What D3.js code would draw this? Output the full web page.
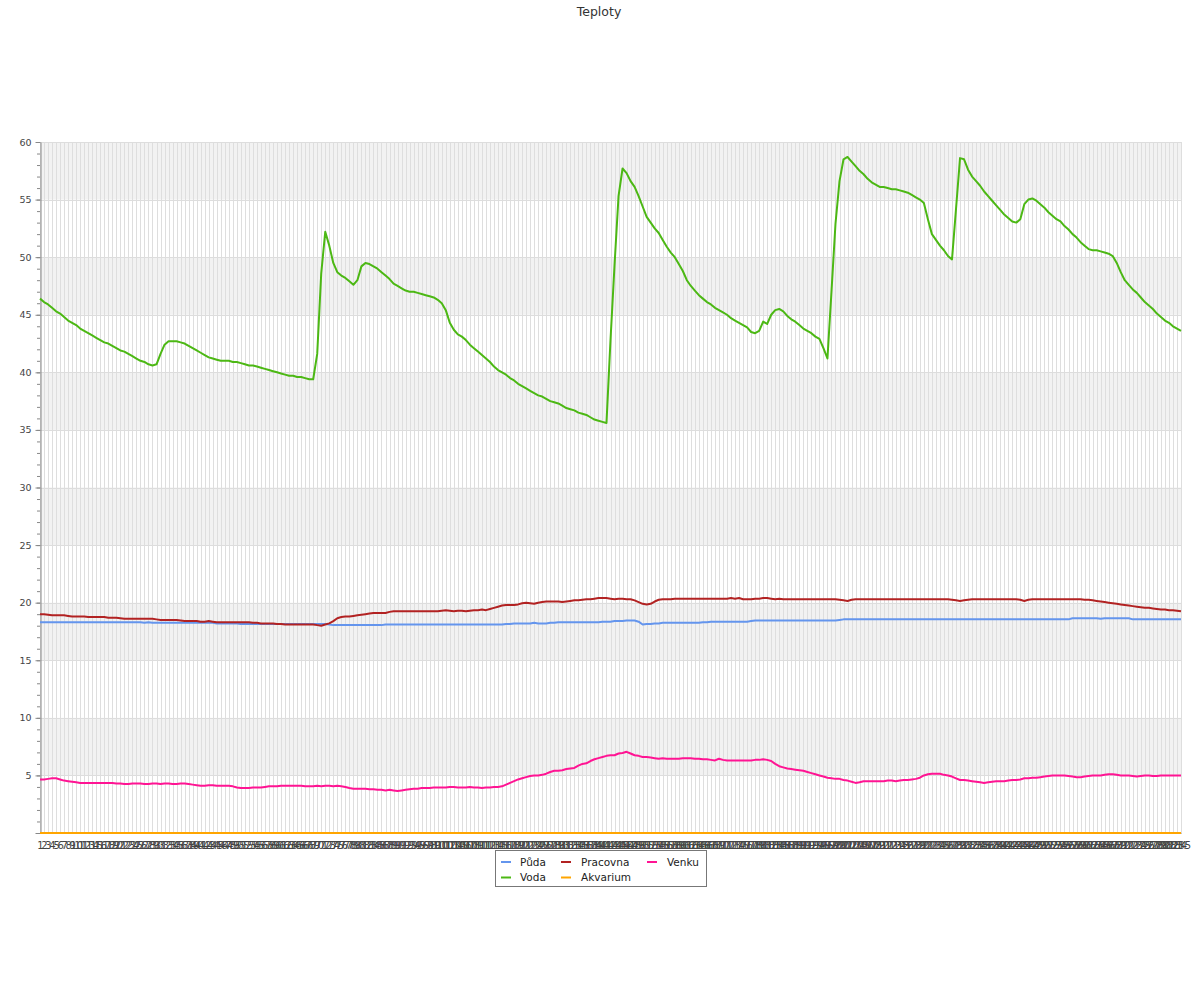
<!DOCTYPE html>
<html><head><meta charset="utf-8">
<script src="https://cdn.jsdelivr.net/npm/d3@7"></script>
<style>
body{margin:0;background:#fff}
svg{display:block;font-family:"DejaVu Sans",sans-serif}
</style>
</head><body>
<svg id="chart" width="1200" height="1000"></svg>
<script>
const title = "Teploty";
const categories = [
1,2,3,4,5,6,7,8,9,10,11,12,13,14,15,16,17,18,19,20,
21,22,23,24,25,26,27,28,29,30,31,32,33,34,35,36,37,38,39,40,
41,42,43,44,45,46,47,48,49,50,51,52,53,54,55,56,57,58,59,60,
61,62,63,64,65,66,67,68,69,70,71,72,73,74,75,76,77,78,79,80,
81,82,83,84,85,86,87,88,89,90,91,92,93,94,95,96,97,98,99,100,
101,102,103,104,105,106,107,108,109,110,111,112,113,114,115,116,117,118,119,120,
121,122,123,124,125,126,127,128,129,130,131,132,133,134,135,136,137,138,139,140,
141,142,143,144,145,146,147,148,149,150,151,152,153,154,155,156,157,158,159,160,
161,162,163,164,165,166,167,168,169,170,171,172,173,174,175,176,177,178,179,180,
181,182,183,184,185,186,187,188,189,190,191,192,193,194,195,196,197,198,199,200,
201,202,203,204,205,206,207,208,209,210,211,212,213,214,215,216,217,218,219,220,
221,222,223,224,225,226,227,228,229,230,231,232,233,234,235,236,237,238,239,240,
241,242,243,244,245,246,247,248,249,250,251,252,253,254,255,256,257,258,259,260,
261,262,263,264,265,266,267,268,269,270,271,272,273,274,275,276,277,278,279,280,
281,282,283,284,285];

const yTicks = [5,10,15,20,25,30,35,40,45,50,55,60];

const puda = [
18.3,18.3,18.3,18.3,18.3,18.3,18.3,18.3,18.3,18.3,
18.3,18.3,18.3,18.3,18.3,18.3,18.3,18.3,18.3,18.3,
18.3,18.3,18.3,18.3,18.3,18.3,18.25,18.3,18.25,18.25,
18.25,18.25,18.25,18.25,18.25,18.25,18.25,18.25,18.25,18.25,
18.25,18.25,18.25,18.25,18.2,18.2,18.2,18.2,18.2,18.2,
18.15,18.15,18.15,18.15,18.15,18.15,18.15,18.15,18.15,18.15,
18.15,18.15,18.15,18.15,18.15,18.15,18.15,18.15,18.15,18.15,
18.15,18.15,18.1,18.05,18.05,18.05,18.05,18.05,18.05,18.05,
18.05,18.05,18.05,18.05,18.05,18.05,18.1,18.1,18.1,18.1,
18.1,18.1,18.1,18.1,18.1,18.1,18.1,18.1,18.1,18.1,
18.1,18.1,18.1,18.1,18.1,18.1,18.1,18.1,18.1,18.1,
18.1,18.1,18.1,18.1,18.1,18.1,18.15,18.15,18.2,18.2,
18.2,18.2,18.2,18.25,18.2,18.2,18.2,18.25,18.25,18.3,
18.3,18.3,18.3,18.3,18.3,18.3,18.3,18.3,18.3,18.3,
18.35,18.35,18.35,18.4,18.4,18.4,18.45,18.45,18.45,18.35,
18.1,18.15,18.15,18.2,18.2,18.25,18.25,18.25,18.25,18.25,
18.25,18.25,18.25,18.25,18.25,18.3,18.3,18.35,18.35,18.35,
18.35,18.35,18.35,18.35,18.35,18.35,18.35,18.4,18.45,18.45,
18.45,18.45,18.45,18.45,18.45,18.45,18.45,18.45,18.45,18.45,
18.45,18.45,18.45,18.45,18.45,18.45,18.45,18.45,18.45,18.5,
18.55,18.55,18.55,18.55,18.55,18.55,18.55,18.55,18.55,18.55,
18.55,18.55,18.55,18.55,18.55,18.55,18.55,18.55,18.55,18.55,
18.55,18.55,18.55,18.55,18.55,18.55,18.55,18.55,18.55,18.55,
18.55,18.55,18.55,18.55,18.55,18.55,18.55,18.55,18.55,18.55,
18.55,18.55,18.55,18.55,18.55,18.55,18.55,18.55,18.55,18.55,
18.55,18.55,18.55,18.55,18.55,18.55,18.55,18.65,18.65,18.65,
18.65,18.65,18.65,18.65,18.6,18.65,18.65,18.65,18.65,18.65,
18.65,18.65,18.55,18.55,18.55,18.55,18.55,18.55,18.55,18.55,
18.55,18.55,18.55,18.55,18.55];

const voda = [
46.4,46.1,45.9,45.6,45.3,45.1,44.8,44.5,44.3,44.1,
43.8,43.6,43.4,43.2,43.0,42.8,42.6,42.5,42.3,42.1,
41.9,41.8,41.6,41.4,41.2,41.0,40.9,40.7,40.6,40.7,
41.6,42.4,42.7,42.7,42.7,42.6,42.5,42.3,42.1,41.9,
41.7,41.5,41.3,41.2,41.1,41.0,41.0,41.0,40.9,40.9,
40.8,40.7,40.6,40.6,40.5,40.4,40.3,40.2,40.1,40.0,
39.9,39.8,39.7,39.7,39.6,39.6,39.5,39.4,39.4,41.6,
48.6,52.2,51.0,49.5,48.7,48.4,48.2,47.9,47.6,48.0,
49.2,49.5,49.4,49.2,49.0,48.7,48.4,48.1,47.7,47.5,
47.3,47.1,47.0,47.0,46.9,46.8,46.7,46.6,46.5,46.3,
46.0,45.4,44.3,43.7,43.3,43.1,42.8,42.4,42.1,41.8,
41.5,41.2,40.9,40.5,40.2,40.0,39.8,39.5,39.3,39.0,
38.8,38.6,38.4,38.2,38.0,37.9,37.7,37.5,37.4,37.3,
37.1,36.9,36.8,36.7,36.5,36.4,36.3,36.1,35.9,35.8,
35.7,35.6,42.8,49.3,55.3,57.7,57.3,56.6,56.1,55.3,
54.4,53.5,53.0,52.5,52.1,51.5,50.9,50.4,50.0,49.4,
48.8,48.0,47.5,47.1,46.7,46.4,46.1,45.9,45.6,45.4,
45.2,45.0,44.7,44.5,44.3,44.1,43.9,43.5,43.4,43.6,
44.4,44.2,45.0,45.4,45.5,45.3,44.9,44.6,44.4,44.1,
43.8,43.6,43.4,43.1,42.9,42.1,41.2,47.0,52.9,56.6,
58.5,58.7,58.3,57.9,57.5,57.2,56.8,56.5,56.3,56.1,
56.1,56.0,55.9,55.9,55.8,55.7,55.6,55.4,55.2,55.0,
54.7,53.3,52.0,51.5,51.0,50.6,50.1,49.8,54.2,58.6,
58.5,57.6,57.0,56.6,56.2,55.7,55.3,54.9,54.5,54.1,
53.7,53.4,53.1,53.0,53.3,54.6,55.0,55.1,54.9,54.6,
54.3,53.9,53.6,53.3,53.1,52.7,52.4,52.0,51.7,51.3,
51.0,50.7,50.6,50.6,50.5,50.4,50.3,50.1,49.5,48.7,
48.0,47.6,47.2,46.9,46.5,46.1,45.8,45.5,45.1,44.8,
44.5,44.3,44.0,43.8,43.6];

const pracovna = [
19.0,19.0,18.95,18.9,18.9,18.9,18.9,18.85,18.8,18.8,
18.8,18.8,18.75,18.75,18.75,18.75,18.75,18.7,18.7,18.7,
18.65,18.6,18.6,18.6,18.6,18.6,18.6,18.6,18.6,18.55,
18.5,18.5,18.5,18.5,18.5,18.45,18.4,18.4,18.4,18.4,
18.35,18.35,18.4,18.35,18.3,18.3,18.3,18.3,18.3,18.3,
18.3,18.3,18.3,18.25,18.25,18.2,18.2,18.2,18.2,18.15,
18.15,18.1,18.1,18.1,18.1,18.1,18.1,18.1,18.1,18.05,
18.0,18.1,18.2,18.4,18.65,18.75,18.8,18.8,18.85,18.9,
18.95,19.0,19.05,19.1,19.1,19.1,19.1,19.2,19.25,19.25,
19.25,19.25,19.25,19.25,19.25,19.25,19.25,19.25,19.25,19.25,
19.3,19.35,19.3,19.25,19.3,19.3,19.25,19.3,19.35,19.35,
19.4,19.35,19.45,19.55,19.65,19.75,19.8,19.8,19.8,19.85,
19.95,20.0,19.95,19.9,20.0,20.05,20.1,20.1,20.1,20.1,
20.05,20.1,20.15,20.2,20.2,20.25,20.3,20.3,20.35,20.4,
20.4,20.4,20.35,20.3,20.35,20.35,20.3,20.3,20.2,20.05,
19.9,19.85,19.9,20.1,20.25,20.3,20.3,20.3,20.35,20.35,
20.35,20.35,20.35,20.35,20.35,20.35,20.35,20.35,20.35,20.35,
20.35,20.35,20.4,20.35,20.4,20.3,20.3,20.3,20.35,20.35,
20.4,20.4,20.35,20.3,20.35,20.3,20.3,20.3,20.3,20.3,
20.3,20.3,20.3,20.3,20.3,20.3,20.3,20.3,20.3,20.25,
20.2,20.15,20.25,20.3,20.3,20.3,20.3,20.3,20.3,20.3,
20.3,20.3,20.3,20.3,20.3,20.3,20.3,20.3,20.3,20.3,
20.3,20.3,20.3,20.3,20.3,20.3,20.3,20.25,20.2,20.15,
20.2,20.25,20.3,20.3,20.3,20.3,20.3,20.3,20.3,20.3,
20.3,20.3,20.3,20.3,20.25,20.15,20.25,20.3,20.3,20.3,
20.3,20.3,20.3,20.3,20.3,20.3,20.3,20.3,20.3,20.3,
20.25,20.25,20.2,20.15,20.1,20.05,20.0,19.95,19.9,19.85,
19.8,19.75,19.7,19.65,19.6,19.55,19.55,19.5,19.45,19.4,
19.4,19.35,19.35,19.3,19.25];

const akvarium = [
0,0,0,0,0,0,0,0,0,0,0,0,0,0,0,0,0,0,0,0,
0,0,0,0,0,0,0,0,0,0,0,0,0,0,0,0,0,0,0,0,
0,0,0,0,0,0,0,0,0,0,0,0,0,0,0,0,0,0,0,0,
0,0,0,0,0,0,0,0,0,0,0,0,0,0,0,0,0,0,0,0,
0,0,0,0,0,0,0,0,0,0,0,0,0,0,0,0,0,0,0,0,
0,0,0,0,0,0,0,0,0,0,0,0,0,0,0,0,0,0,0,0,
0,0,0,0,0,0,0,0,0,0,0,0,0,0,0,0,0,0,0,0,
0,0,0,0,0,0,0,0,0,0,0,0,0,0,0,0,0,0,0,0,
0,0,0,0,0,0,0,0,0,0,0,0,0,0,0,0,0,0,0,0,
0,0,0,0,0,0,0,0,0,0,0,0,0,0,0,0,0,0,0,0,
0,0,0,0,0,0,0,0,0,0,0,0,0,0,0,0,0,0,0,0,
0,0,0,0,0,0,0,0,0,0,0,0,0,0,0,0,0,0,0,0,
0,0,0,0,0,0,0,0,0,0,0,0,0,0,0,0,0,0,0,0,
0,0,0,0,0,0,0,0,0,0,0,0,0,0,0,0,0,0,0,0,
0,0,0,0,0];

const venku = [
4.65,4.65,4.7,4.75,4.75,4.65,4.55,4.5,4.45,4.4,
4.35,4.35,4.35,4.35,4.35,4.35,4.35,4.35,4.35,4.3,
4.3,4.25,4.25,4.3,4.3,4.3,4.25,4.25,4.3,4.3,
4.25,4.3,4.3,4.25,4.25,4.3,4.3,4.25,4.2,4.15,
4.1,4.1,4.15,4.15,4.1,4.1,4.1,4.1,4.05,3.95,
3.9,3.9,3.9,3.95,3.95,3.95,4.0,4.05,4.05,4.05,
4.1,4.1,4.1,4.1,4.1,4.1,4.05,4.05,4.05,4.1,
4.05,4.1,4.1,4.05,4.1,4.05,4.0,3.9,3.85,3.85,
3.85,3.85,3.8,3.8,3.75,3.75,3.7,3.75,3.7,3.65,
3.7,3.75,3.8,3.85,3.85,3.9,3.9,3.9,3.95,3.95,
3.95,3.95,4.0,4.0,3.95,3.95,3.95,4.0,3.95,3.95,
3.9,3.95,3.95,4.0,4.0,4.05,4.2,4.35,4.5,4.65,
4.75,4.85,4.95,5.0,5.0,5.05,5.15,5.3,5.4,5.4,
5.45,5.55,5.6,5.65,5.85,6.0,6.05,6.25,6.4,6.5,
6.6,6.7,6.75,6.75,6.9,6.95,7.05,6.9,6.75,6.7,
6.6,6.6,6.55,6.5,6.45,6.5,6.45,6.45,6.45,6.45,
6.5,6.5,6.5,6.45,6.45,6.4,6.4,6.35,6.3,6.45,
6.35,6.3,6.3,6.3,6.3,6.3,6.3,6.3,6.35,6.35,
6.4,6.35,6.25,6.0,5.8,5.7,5.6,5.55,5.5,5.45,
5.4,5.3,5.2,5.1,5.0,4.9,4.8,4.75,4.7,4.7,
4.6,4.55,4.45,4.35,4.4,4.5,4.5,4.5,4.5,4.5,
4.5,4.55,4.55,4.5,4.55,4.6,4.6,4.65,4.7,4.8,
5.0,5.1,5.15,5.15,5.15,5.05,5.0,4.9,4.75,4.6,
4.6,4.55,4.5,4.45,4.4,4.35,4.4,4.45,4.5,4.5,
4.5,4.55,4.6,4.6,4.65,4.75,4.75,4.8,4.8,4.85,
4.9,4.95,5.0,5.0,5.0,5.0,4.95,4.9,4.85,4.85,
4.9,4.95,5.0,5.0,5.0,5.05,5.1,5.1,5.05,5.0,
5.0,5.0,4.95,4.9,4.95,5.0,5.0,4.95,4.95,5.0,
5.0,5.0,5.0,5.0,5.0];

const seriesNames = ["Půda","Voda","Pracovna","Akvarium","Venku"];
const seriesColors = ["#6495ed","#4cb814","#b22222","#ffa500","#ff1493"];
const seriesValues = [puda, voda, pracovna, akvarium, venku];

// ---- layout ----
const plot = {left: 40, right: 1181, top: 142, bottom: 833};
const svg = d3.select("#chart");

const x = d3.scalePoint().domain(categories).range([plot.left, plot.right]);
const y = d3.scaleLinear().domain([0, 60]).range([plot.bottom, plot.top]);

// title
svg.append("text").attr("x", 599).attr("y", 16)
  .attr("text-anchor", "middle").attr("font-size", 12.5).attr("fill", "#333")
  .text(title);

// alternating bands
const bandStarts = yTicks.filter((d, i) => i % 2 === 0);
svg.append("g").selectAll("rect").data(bandStarts).join("rect")
  .attr("x", plot.left).attr("width", plot.right - plot.left)
  .attr("y", d => y(d + 5)).attr("height", d => y(d) - y(d + 5))
  .attr("fill", "#f2f2f2");

// vertical grid
svg.append("g").attr("shape-rendering", "crispEdges").selectAll("line").data(categories).join("line")
  .attr("x1", d => Math.round(x(d)) + 0.5).attr("x2", d => Math.round(x(d)) + 0.5)
  .attr("y1", plot.top).attr("y2", plot.bottom)
  .attr("stroke", "#dedede").attr("stroke-width", 1);

// horizontal grid
svg.append("g").attr("shape-rendering", "crispEdges").selectAll("line").data(yTicks).join("line")
  .attr("x1", plot.left).attr("x2", plot.right)
  .attr("y1", d => Math.round(y(d)) + 0.5).attr("y2", d => Math.round(y(d)) + 0.5)
  .attr("stroke", "#dddddd");

// y axis minor ticks
const minor = d3.axisLeft(y).tickValues(d3.range(0, 61, 1)).tickSize(3).tickSizeOuter(0).tickFormat("");
const gMinor = svg.append("g").attr("transform", `translate(${plot.left},0)`).call(minor);
gMinor.select(".domain").remove();
gMinor.selectAll("line").attr("stroke", "#888");

// y axis major
const yAxis = d3.axisLeft(y).tickValues([0].concat(yTicks)).tickSize(5).tickSizeOuter(0).tickPadding(4)
  .tickFormat(d => d === 0 ? "" : d);
const gy = svg.append("g").attr("transform", `translate(${plot.left + 0.5},0)`).call(yAxis);
gy.select(".domain").attr("stroke", "#888");
gy.selectAll("line").attr("stroke", "#888");
gy.selectAll("text").attr("font-size", 9.5).attr("fill", "#444").attr("font-family", "DejaVu Sans");

// x axis
const xAxis = d3.axisBottom(x).tickSize(0).tickSizeOuter(0).tickPadding(9);
const gx = svg.append("g").attr("transform", `translate(0,${plot.bottom})`).call(xAxis);
gx.select(".domain").attr("stroke", "#888");
gx.selectAll("text").attr("font-size", 10).attr("fill", "#444").attr("font-family", "DejaVu Sans");

// lines
const line = d3.line().x((d, i) => x(categories[i])).y(d => y(d));
svg.append("g").selectAll("path").data(seriesValues).join("path")
  .attr("d", d => line(d))
  .attr("fill", "none")
  .attr("stroke", (d, i) => seriesColors[i])
  .attr("stroke-width", 2)
  .attr("stroke-linejoin", "round");

// legend
const lg = svg.append("g");
lg.append("rect").attr("x", 495.5).attr("y", 850.5).attr("width", 211).attr("height", 36)
  .attr("fill", "#fff").attr("stroke", "#777");
const colX = [501, 561, 647];
const textX = [520, 581, 667];
const rowY = [862, 877.5];
seriesNames.forEach((name, i) => {
  const c = Math.floor(i / 2), r = i % 2;
  lg.append("line").attr("x1", colX[c]).attr("x2", colX[c] + 10)
    .attr("y1", rowY[r]).attr("y2", rowY[r])
    .attr("stroke", seriesColors[i]).attr("stroke-width", 2);
  lg.append("text").attr("x", textX[c]).attr("y", rowY[r] + 3.7)
    .attr("font-size", 10.5).attr("fill", "#222").text(name);
});
</script>
</body></html>
